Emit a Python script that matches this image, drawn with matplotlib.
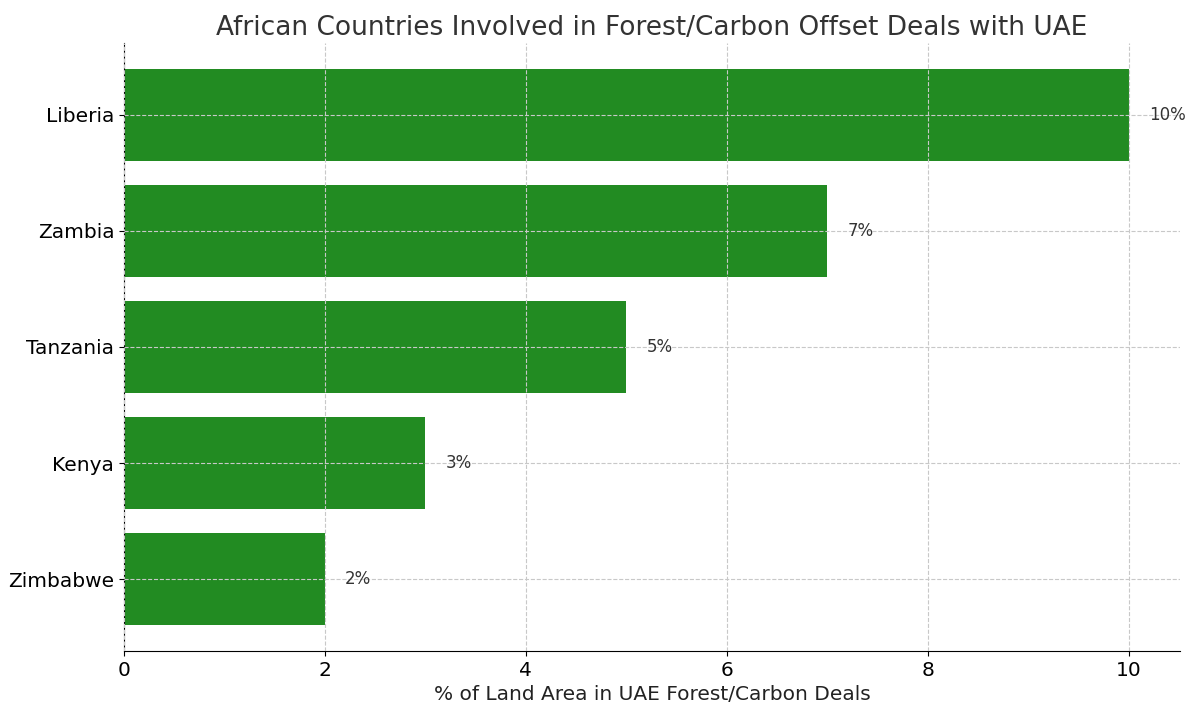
import matplotlib
matplotlib.use("Agg")
import matplotlib.pyplot as plt

countries = ["Liberia", "Zambia", "Tanzania", "Kenya", "Zimbabwe"]
values = [10, 7, 5, 3, 2]

fig = plt.figure(figsize=(11.99, 7.17), dpi=100)
ax = fig.add_axes([124/1199, 1-651/717, (1180-124)/1199, (651-43)/717])
ypos = list(range(len(countries)))[::-1]
ax.barh(ypos, values, height=0.8, color="#228B22", zorder=2)
for y, v in zip(ypos, values):
    ax.text(v + 0.2, y, f"{v}%", va="center", ha="left", fontsize=12, color="#333333")
ax.set_yticks(ypos)
ax.set_yticklabels(countries)
ax.set_xlim(0, 10.51)
ax.set_ylim(-0.62, 4.62)
ax.tick_params(labelsize=14.5)
ax.set_xlabel("% of Land Area in UAE Forest/Carbon Deals", fontsize=14.5, color="#222222")
ax.set_title("African Countries Involved in Forest/Carbon Offset Deals with UAE", fontsize=19, color="#333333")
ax.grid(True, linestyle="--", color="#c8c8c8", linewidth=0.8, zorder=3)
ax.set_axisbelow(False)
for s in ["top", "right"]:
    ax.spines[s].set_visible(False)
fig.savefig("out.png", dpi=100)
